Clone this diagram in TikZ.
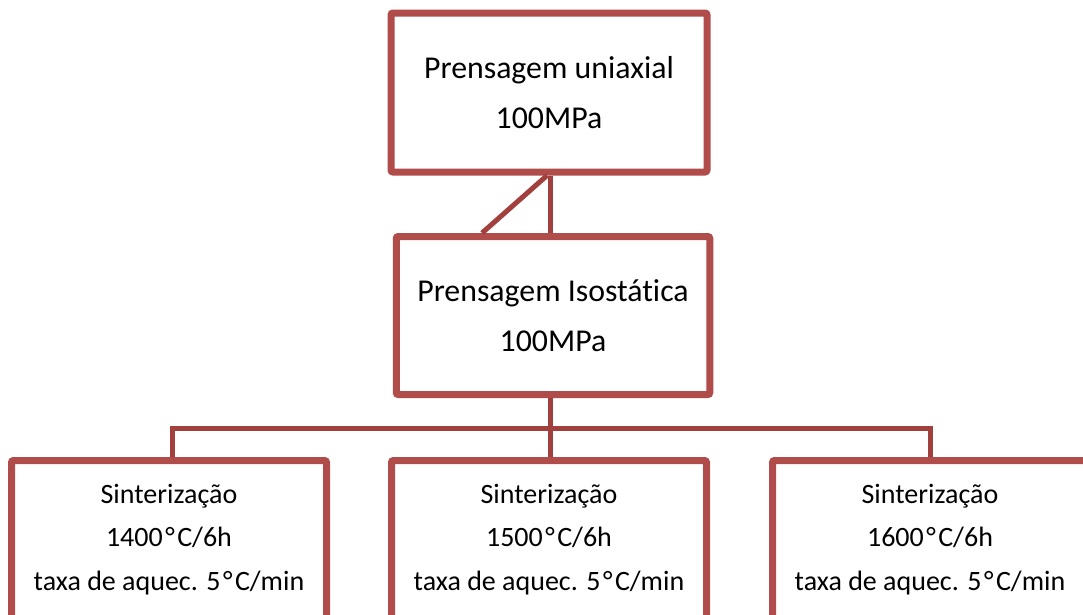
\documentclass[tikz,border=0pt]{standalone}
\usepackage{fontspec}
\setmainfont[Ligatures=NoCommon]{Carlito}
\definecolor{boxred}{RGB}{176,76,74}
\definecolor{linered}{RGB}{162,64,62}
\newcommand{\degC}{\kern2.5pt°\kern2.5pt C}
\begin{document}
\begin{tikzpicture}[x=1pt,y=-1pt,
  bigbox/.style={draw=boxred, line width=7pt, rounded corners=2pt, fill=white, align=center, inner sep=0pt},
  topbox/.style={bigbox, minimum width=316pt, minimum height=159pt, font=\fontsize{31.8}{50}\selectfont},
  sinbox/.style={bigbox, minimum width=315pt, minimum height=158pt, font=\fontsize{28}{43.5}\selectfont},
  conn/.style={draw=linered, line width=5pt}]
\useasboundingbox (0,0) rectangle (1083,614);
\clip (0,0) rectangle (1083,614);
\coordinate (bus) at (550,428);
\node[topbox] (top) at (549,92.5) {Prensagem uniaxial\\100MPa};
\node[topbox, minimum width=313.5pt, minimum height=158pt] (mid) at (553,315.5) {Prensagem Isostática\\100MPa};
\node[sinbox] (s1) at (169,539.5) {Sinterização\\1400\degC/6h\\taxa de aquec. 5\degC/min};
\node[sinbox] (s2) at (549,539.5) {Sinterização\\1500\degC/6h\\taxa de aquec. 5\degC/min};
\node[sinbox] (s3) at (930,539.5) {Sinterização\\1600\degC/6h\\taxa de aquec. 5\degC/min};
\path[conn] (top.south -| bus) -- (mid.north -| bus);
\path[conn] ([xshift=-2pt]top.south) -- ([xshift=-71pt]mid.north);
\path[conn] (mid.south -| bus) -- (bus);
\path[conn] (s1.north -| 172,0) -- (172,428) -- (930,428) -- (s3.north);
\path[conn] (bus) -- (s2.north -| bus);
\end{tikzpicture}
\end{document}
